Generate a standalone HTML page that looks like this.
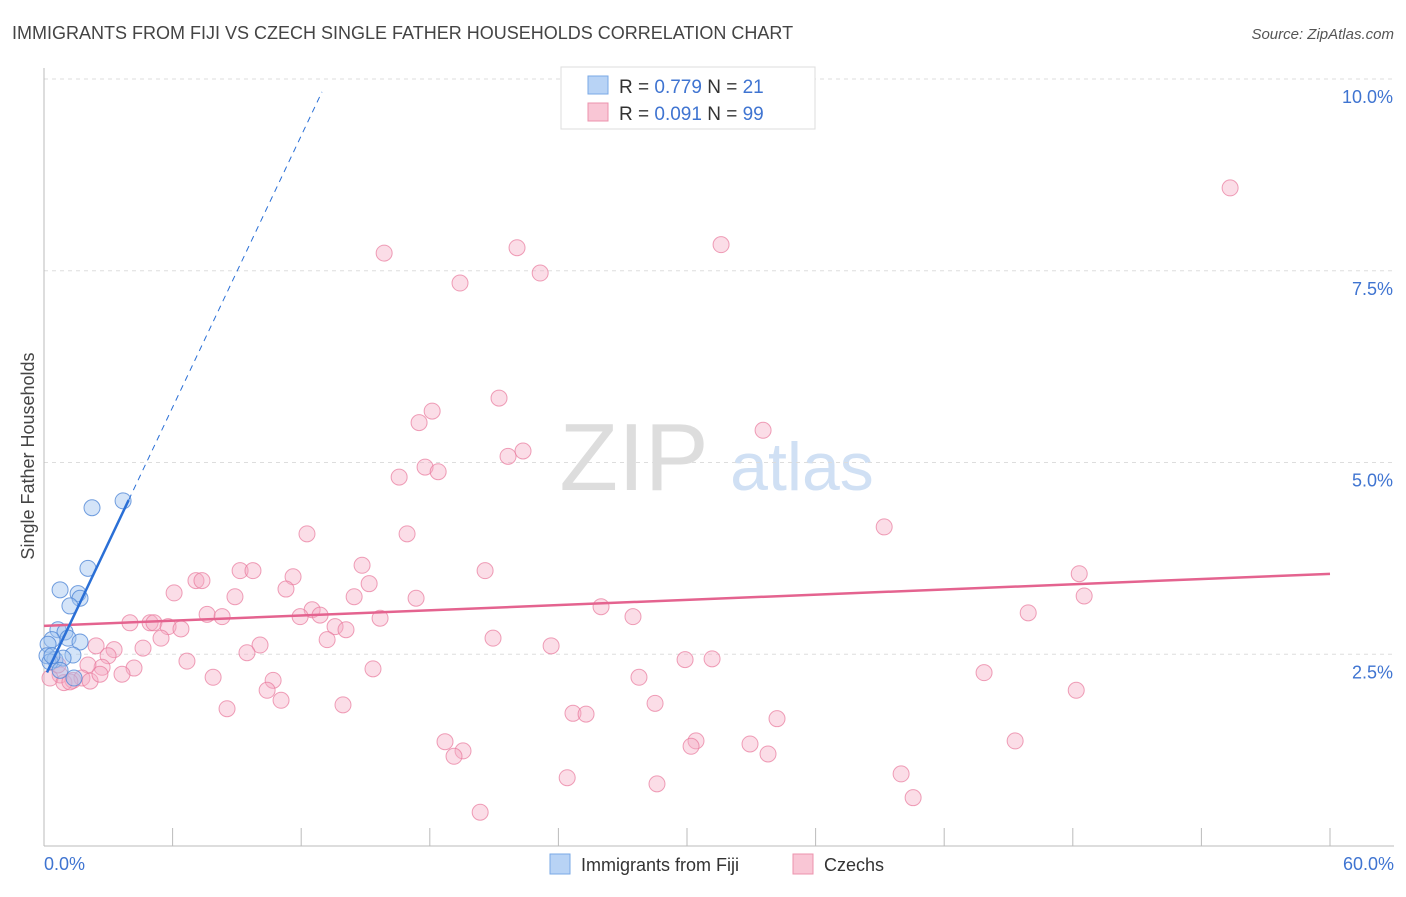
<!DOCTYPE html>
<html><head><meta charset="utf-8"><style>
body{margin:0;background:#fff;font-family:"Liberation Sans",sans-serif;}
svg text{font-family:"Liberation Sans",sans-serif;}
</style></head><body>
<svg id="chart" width="1406" height="892" xmlns="http://www.w3.org/2000/svg">
<text x="12" y="39" font-size="18" fill="#444">IMMIGRANTS FROM FIJI VS CZECH SINGLE FATHER HOUSEHOLDS CORRELATION CHART</text>
<text x="1394" y="39" font-size="15" fill="#555" text-anchor="end" font-style="italic">Source: ZipAtlas.com</text>
<text transform="translate(34,456) rotate(-90)" font-size="18" fill="#444" text-anchor="middle">Single Father Households</text>
<g>
<text x="634" y="490" font-size="96" fill="#ddd" text-anchor="middle" font-family="Liberation Serif,serif">ZIP</text>
<text x="802" y="490" font-size="68" fill="#d0e0f4" text-anchor="middle">atlas</text>
</g>
<g id="grid"></g><g id="axes"></g><g id="marks"></g>
<g>
<rect x="561" y="67" width="254" height="62" fill="#fff" stroke="#ddd"/>
<rect x="588" y="76" width="20" height="18" fill="#b8d3f5" stroke="#7aa8e6"/>
<rect x="588" y="103" width="20" height="18" fill="#f9c6d5" stroke="#ec93ad"/>
<text x="619" y="93" font-size="19" fill="#333">R = <tspan fill="#3f74d1">0.779</tspan>   N = <tspan fill="#3f74d1"> 21</tspan></text>
<text x="619" y="120" font-size="19" fill="#333">R = <tspan fill="#3f74d1">0.091</tspan>   N = <tspan fill="#3f74d1">99</tspan></text>
</g>
<g>
<rect x="550" y="854" width="20" height="20" fill="#b8d3f5" stroke="#7aa8e6"/>
<text x="581" y="871" font-size="18" fill="#333">Immigrants from Fiji</text>
<rect x="793" y="854" width="20" height="20" fill="#f9c6d5" stroke="#ec93ad"/>
<text x="824" y="871" font-size="18" fill="#333">Czechs</text>
</g>
</svg>
<script>
const yTicks=[2.5,5.0,7.5,10.0];
const yTickLabels=["2.5%","5.0%","7.5%","10.0%"];
const xTicks=[0,6,12,18,24,30,36,42,48,54,60];
const xEndLabels=["0.0%","60.0%"];
const fijiX=[3.69,2.24,2.05,0.75,1.59,1.68,1.21,0.65,0.98,1.12,1.68,0.37,0.19,1.35,0.14,0.51,0.89,0.28,0.75,1.40,0.37];
const fijiY=[4.50,4.41,3.62,3.34,3.29,3.23,3.13,2.82,2.79,2.71,2.66,2.69,2.63,2.49,2.48,2.43,2.45,2.40,2.29,2.19,2.48];
const czX=[55.34,22.07,31.59,15.87,23.15,19.41,21.23,18.11,17.50,33.55,22.35,21.65,17.78,18.39,16.57,39.20,12.27,16.94,14.84,9.15,9.75,20.58,48.30,11.62,7.09,7.37,15.17,6.07,8.91,14.47,17.36,48.53,25.99,11.29,12.51,12.88,7.61,8.31,11.95,15.68,27.48,45.92,4.01,4.95,5.13,5.79,6.39,13.58,14.09,5.46,13.21,20.95,23.66,2.43,4.62,3.27,2.99,10.08,9.47,6.67,2.71,4.20,2.05,31.17,29.91,15.35,43.86,27.76,7.89,3.64,10.69,0.75,1.35,1.77,0.28,0.93,10.41,48.16,11.06,28.51,13.95,8.54,24.68,25.29,34.20,18.71,45.31,30.42,32.94,30.19,19.55,19.13,33.78,39.99,24.41,28.60,40.55,20.35,0.65,1.21,2.15,2.61];
const czY=[8.58,7.80,7.84,7.73,7.47,7.34,5.84,5.67,5.52,5.42,5.15,5.08,4.94,4.88,4.81,4.16,4.07,4.07,3.66,3.59,3.59,3.59,3.55,3.51,3.46,3.46,3.42,3.30,3.25,3.25,3.23,3.26,3.12,3.35,3.08,3.01,3.02,2.99,2.99,2.97,2.99,3.04,2.91,2.91,2.91,2.86,2.83,2.86,2.82,2.71,2.69,2.71,2.61,2.61,2.58,2.56,2.48,2.62,2.52,2.41,2.33,2.32,2.36,2.44,2.43,2.31,2.26,2.20,2.20,2.24,2.16,2.23,2.16,2.19,2.19,2.13,2.03,2.03,1.90,1.86,1.84,1.79,1.73,1.72,1.66,1.36,1.37,1.37,1.33,1.30,1.24,1.17,1.20,0.94,0.89,0.81,0.63,0.44,2.36,2.14,2.15,2.24];
const fijiTrend=[2.18,0.59]; // intercept, slope
const czTrend=[2.87,0.0113];

const NS="http://www.w3.org/2000/svg";
const X=v=>44+v*(1286/60);
const Y=v=>846-v*76.7;
function mk(tag,attrs,parent){const e=document.createElementNS(NS,tag);for(const k in attrs)e.setAttribute(k,attrs[k]);parent.appendChild(e);return e;}
const grid=document.getElementById('grid'),axes=document.getElementById('axes'),marks=document.getElementById('marks');
yTicks.forEach((t,i)=>{
 const l=mk('line',{x1:44,x2:1394,y1:Y(t),y2:Y(t),stroke:'#ddd','stroke-dasharray':'4,4'},grid);
 
 
 const tx=mk('text',{x:1393,y:Y(t)+24,'font-size':18,fill:'#3f74d1','text-anchor':'end'},axes);
 tx.textContent=yTickLabels[i];
 
 
});
const ax=mk('line',{x1:44,x2:44,y1:68,y2:846,stroke:'#bbb'},axes);


const bx=mk('line',{x1:44,x2:1394,y1:846,y2:846,stroke:'#bbb'},axes);


xTicks.forEach(t=>{
 const l=mk('line',{x1:X(t),x2:X(t),y1:828,y2:846,stroke:'#bbb'},axes);
 
 
});
const t0=mk('text',{x:44,y:870,'font-size':18,fill:'#3f74d1'},axes);t0.textContent=xEndLabels[0];


const t1=mk('text',{x:1394,y:870,'font-size':18,fill:'#3f74d1','text-anchor':'end'},axes);t1.textContent=xEndLabels[1];



czX.forEach((x,i)=>{
 const c=mk('circle',{cx:X(x),cy:Y(czY[i]),r:8,fill:'rgba(246,170,195,0.4)',stroke:'rgba(232,120,155,0.7)','stroke-width':1},marks);
 
 
});
fijiX.forEach((x,i)=>{
 const c=mk('circle',{cx:X(x),cy:Y(fijiY[i]),r:8,fill:'rgba(160,195,240,0.45)',stroke:'rgba(80,135,215,0.8)','stroke-width':1},marks);
 
 
});
const cz=mk('line',{x1:X(0),y1:Y(czTrend[0]),x2:X(60),y2:Y(czTrend[0]+czTrend[1]*60),stroke:'#e4638f','stroke-width':2.5},marks);


const fx0=0.14,fx1=3.95,fx2=12.97;
const f1=mk('line',{x1:X(fx0),y1:Y(fijiTrend[0]+fijiTrend[1]*fx0),x2:X(fx1),y2:Y(fijiTrend[0]+fijiTrend[1]*fx1),stroke:'#2a6fd6','stroke-width':2.5},marks);


const f2=mk('line',{x1:X(fx1),y1:Y(fijiTrend[0]+fijiTrend[1]*fx1),x2:X(fx2),y2:Y(fijiTrend[0]+fijiTrend[1]*fx2),stroke:'#2a6fd6','stroke-width':1,'stroke-dasharray':'6,5'},marks);


</script>
</body></html>
